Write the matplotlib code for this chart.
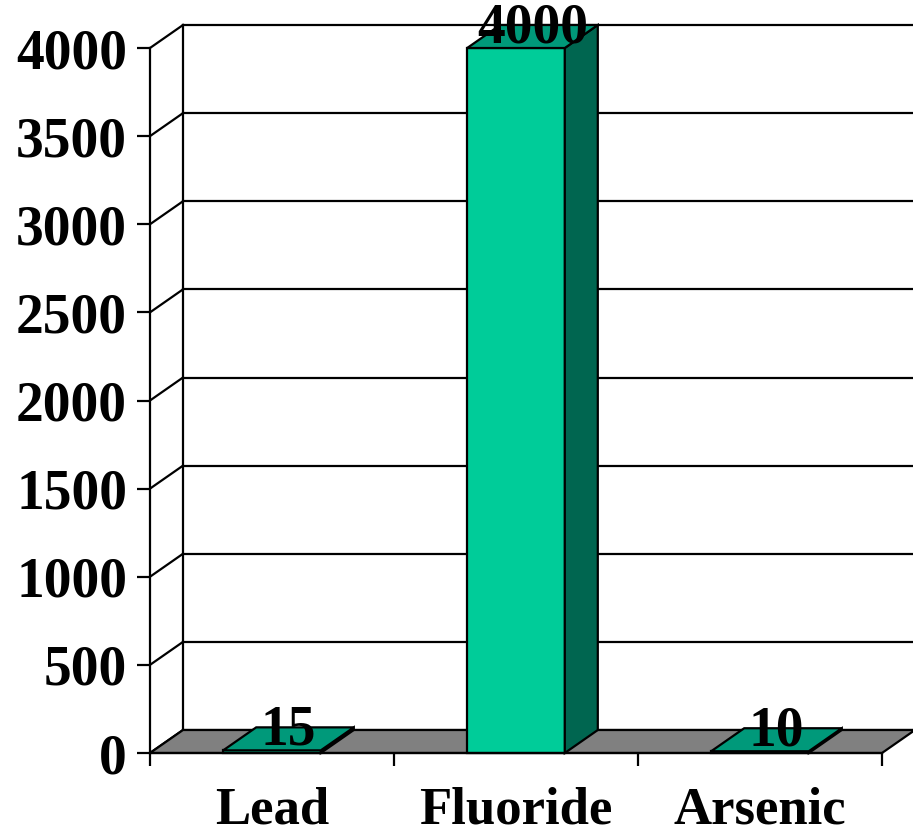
import matplotlib
matplotlib.use("Agg")
import matplotlib.pyplot as plt
from matplotlib.patches import Polygon

categories = ["Lead", "Fluoride", "Arsenic"]
values = [15, 4000, 10]
yticks = [0, 500, 1000, 1500, 2000, 2500, 3000, 3500, 4000]

FRONT = "#00CC99"
TOP = "#00997A"
SIDE = "#006650"
FLOOR = "#808080"

W, H, DPI = 913, 834, 100
fig = plt.figure(figsize=(W / DPI, H / DPI), dpi=DPI)
ax = fig.add_axes([150 / W, (H - 753) / H, 732 / W, 705 / H])
ax.set_xlim(0, 3)
ax.set_ylim(0, 4000)
ax.set_facecolor("none")

# depth offset (pixels) converted to data units
DX_PX, DY_PX = 33, 23
p0 = ax.transData.transform((0, 0))
p1 = ax.transData.transform((1, 1000))
dx = DX_PX / (p1[0] - p0[0])
dy = DY_PX / (p1[1] - p0[1]) * 1000

LW = 1.6
n = len(categories)

# back wall gridlines + left wall diagonals
for v in yticks:
    ax.plot([dx, n + dx], [v + dy, v + dy], color="black", lw=LW, clip_on=False, zorder=1)
    ax.plot([0, dx], [v, v + dy], color="black", lw=LW, clip_on=False, zorder=1)
ax.plot([dx, dx], [dy, 4000 + dy], color="black", lw=LW, clip_on=False, zorder=1)

# floor
ax.add_patch(Polygon([(0, 0), (n, 0), (n + dx, dy), (dx, dy)], closed=True,
                     facecolor=FLOOR, edgecolor="black", lw=LW, clip_on=False, zorder=2))

bw = 0.4
for i, (c, v) in enumerate(zip(categories, values)):
    xc = i + 0.5
    x0, x1 = xc - bw / 2, xc + bw / 2
    # front
    ax.add_patch(Polygon([(x0, 0), (x1, 0), (x1, v), (x0, v)], closed=True,
                         facecolor=FRONT, edgecolor="black", lw=LW, clip_on=False, zorder=3))
    # side
    ax.add_patch(Polygon([(x1, 0), (x1 + dx, dy), (x1 + dx, v + dy), (x1, v)], closed=True,
                         facecolor=SIDE, edgecolor="black", lw=LW, clip_on=False, zorder=3))
    # top
    ax.add_patch(Polygon([(x0, v), (x1, v), (x1 + dx, v + dy), (x0 + dx, v + dy)], closed=True,
                         facecolor=TOP, edgecolor="black", lw=LW, clip_on=False, zorder=3))
    # data label
    ax.annotate(str(v), xy=(xc + dx / 2, v + dy / 2), xytext=(0, 8),
                textcoords="offset pixels", ha="center", va="center",
                fontsize=40, fontweight="bold", family="Liberation Serif",
                zorder=5, annotation_clip=False)

# axes styling
for s in ["top", "right"]:
    ax.spines[s].set_visible(False)
for s in ["left", "bottom"]:
    ax.spines[s].set_linewidth(LW)
    ax.spines[s].set_zorder(4)

ax.set_yticks(yticks)
ax.set_yticklabels([str(t) for t in yticks], fontsize=40, fontweight="bold",
                   family="Liberation Serif")
ax.tick_params(axis="y", direction="out", length=9.5, width=LW, pad=7)

ax.set_xticks(range(n + 1))
ax.set_xticklabels([])
ax.tick_params(axis="x", which="major", direction="out", length=9, width=LW)
ax.set_xticks([i + 0.5 for i in range(n)], minor=True)
ax.set_xticklabels(categories, minor=True, fontsize=38, fontweight="bold",
                   family="Liberation Serif")
ax.tick_params(axis="x", which="minor", length=0, pad=24)

fig.savefig("out.png", dpi=DPI)
